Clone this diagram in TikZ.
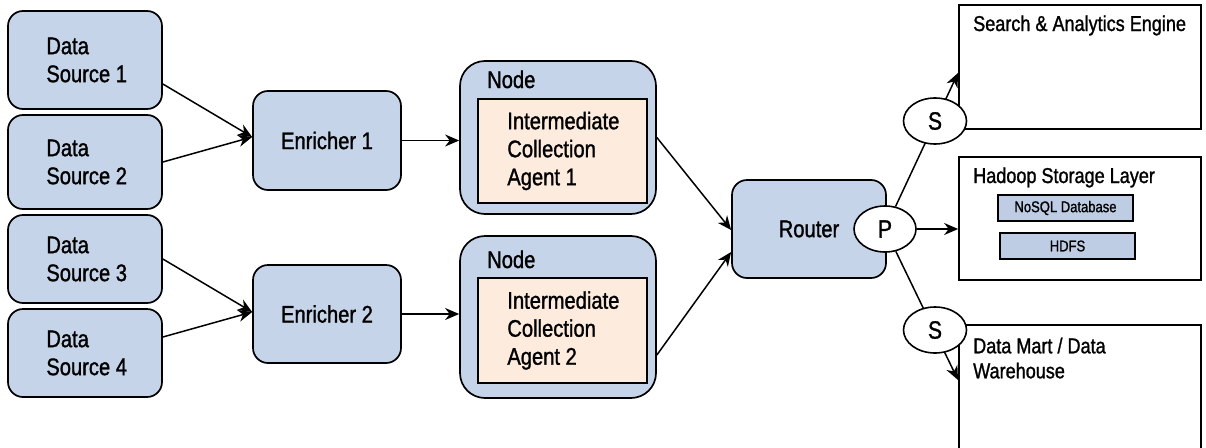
\documentclass[tikz,border=0pt]{standalone}
\usepackage{fontspec}
\setmainfont{Liberation Sans}[FakeStretch=0.84,FakeBold=1.2]
\usetikzlibrary{arrows.meta,shapes.geometric}
\definecolor{boxblue}{RGB}{197,212,233}
\definecolor{agentfill}{RGB}{253,235,222}
\definecolor{dbblue}{RGB}{190,205,228}
\begin{document}
\begin{tikzpicture}[x=1pt,y=-1pt,
  bluebox/.style={draw, line width=1.7pt, fill=boxblue, rounded corners=15pt, inner sep=0pt},
  nodebox/.style={draw, line width=1.7pt, fill=boxblue, rounded corners=25pt, inner sep=0pt},
  agentbox/.style={draw, line width=1.7pt, fill=agentfill, inner sep=0pt},
  sinkbox/.style={draw, line width=1.7pt, fill=white, inner sep=0pt},
  dbbox/.style={draw, line width=1.3pt, fill=dbblue, inner sep=0pt, font=\fontsize{15.5}{18}\selectfont},
  big/.style={font=\fontsize{24}{28}\selectfont, inner sep=0pt, align=left},
  mid/.style={font=\fontsize{21.5}{25}\selectfont, inner sep=0pt, align=left},
  oval/.style={draw, ellipse, line width=1.6pt, fill=white, inner sep=0pt, font=\fontsize{25}{28}\selectfont},
  arr/.style={line width=1.5pt, -{Stealth[length=14pt,width=12pt,inset=4.5pt]}}
]
\useasboundingbox (0,0) rectangle (1206,447);
\clip (0,0) rectangle (1206,447);

% data sources
\node[bluebox, minimum width=154pt, minimum height=98pt] (ds1) at (85,60) {};
\node[bluebox, minimum width=154pt, minimum height=94pt] (ds2) at (85,162) {};
\node[bluebox, minimum width=154pt, minimum height=88pt] (ds3) at (85,259) {};
\node[bluebox, minimum width=154pt, minimum height=88pt] (ds4) at (85,353) {};
\node[big, anchor=west] (ds1t) at ([xshift=39pt]ds1.west) {Data\\Source 1};
\node[big, anchor=west] (ds2t) at ([xshift=39pt]ds2.west) {Data\\Source 2};
\node[big, anchor=west] (ds3t) at ([xshift=39pt]ds3.west) {Data\\Source 3};
\node[big, anchor=west] (ds4t) at ([xshift=39pt]ds4.west) {Data\\Source 4};

% enrichers
\node[bluebox, big, minimum width=148pt, minimum height=99pt] (enr1) at (327,140.5) {Enricher 1};
\node[bluebox, big, minimum width=148pt, minimum height=98pt] (enr2) at (327,314) {Enricher 2};

% nodes with agents
\node[nodebox, minimum width=196pt, minimum height=153pt] (node1) at (558,137.5) {};
\node[agentbox, minimum width=169pt, minimum height=104pt] (inner1) at (562.5,151) {};
\node[big, anchor=base west] (node1t) at (487,88) {Node};
\node[big, anchor=west] (agent1t) at ([xshift=30pt]inner1.west) {Intermediate\\Collection\\Agent 1};

\node[nodebox, minimum width=196pt, minimum height=162pt] (node2) at (558,317) {};
\node[agentbox, minimum width=169pt, minimum height=105pt] (inner2) at (562.5,330.5) {};
\node[big, anchor=base west] (node2t) at (487,268) {Node};
\node[big, anchor=west] (agent2t) at ([xshift=30pt]inner2.west) {Intermediate\\Collection\\Agent 2};

% router
\node[bluebox, big, minimum width=154pt, minimum height=98pt] (router) at (809,229) {Router};
\node[oval, minimum width=62pt, minimum height=46pt] (P) at (885,229) {P};

% sinks
\node[sinkbox, minimum width=242pt, minimum height=124pt] (search) at (1080,67) {};
\node[mid, anchor=base west] (searcht) at (973,31) {Search \& Analytics Engine};
\node[sinkbox, minimum width=242pt, minimum height=123pt] (hadoop) at (1080,218.5) {};
\node[mid, anchor=base west] (hadoopt) at (973,183) {Hadoop Storage Layer};
\node[dbbox, minimum width=135pt, minimum height=26pt] (nosql) at (1065.5,208) {NoSQL Database};
\node[dbbox, minimum width=135pt, minimum height=26pt] (hdfs) at (1067.5,246) {HDFS};
\node[sinkbox, minimum width=242pt, minimum height=150pt] (dm) at (1080,400) {};
\node[mid, anchor=north west] (dmt) at (973,337.5) {Data Mart / Data\\Warehouse};

% connectors
\draw[arr] ([yshift=-24pt]ds1.east) -- ([yshift=3.5pt]enr1.west);
\draw[arr] (ds2.east) -- ([yshift=3.5pt]enr1.west);
\draw[arr] (ds3.east) -- ([yshift=2pt]enr2.west);
\draw[arr] ([yshift=16pt]ds4.east) -- ([yshift=2pt]enr2.west);
\draw[arr] (enr1.east) -- (enr1.east -| node1.west);
\draw[arr] (enr2.east) -- (enr2.east -| node2.west);
\draw[arr] (node1.east) -- ([yshift=-1pt]router.west);
\draw[arr] ([yshift=-38pt]node2.east) -- ([yshift=-23pt]router.west);

\coordinate (tS) at (958,73);
\coordinate (tD) at (958,380);
\draw[arr] (P) -- (tS);
\draw[arr] (P) -- (tD);
\draw[arr] (P.east) -- (P.east -| hadoop.west);

\node[oval, minimum width=63pt, minimum height=46pt] (S1) at (935,121) {S};
\node[oval, minimum width=63pt, minimum height=46pt] (S2) at (935,330) {S};
\end{tikzpicture}
\end{document}
